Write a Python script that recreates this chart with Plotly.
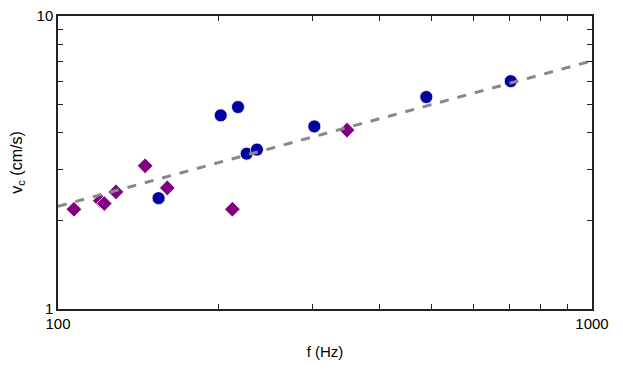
import plotly.graph_objects as go

# purple diamonds
f_diamond = [107.1, 120.0, 122.1, 128.4, 145.6, 160.2, 212.1, 347.7]
v_diamond = [2.19, 2.34, 2.29, 2.51, 3.08, 2.59, 2.19, 4.08]

# blue circles
f_circle = [154.3, 201.7, 217.3, 225.6, 235.8, 302.0, 489.5, 704.4]
v_circle = [2.39, 4.58, 4.89, 3.39, 3.50, 4.20, 5.29, 5.99]

# fitted power-law line
f_fit = [100, 1000]
v_fit = [2.24, 7.03]

minor_x = [200, 300, 400, 500, 600, 700, 800, 900]
minor_y = [2, 3, 4, 5, 6, 7, 8, 9]

fig = go.Figure()
fig.add_trace(go.Scatter(x=f_diamond, y=v_diamond, mode='markers',
                         marker=dict(symbol='diamond', size=12, color='#800080',
                                     line=dict(color='white', width=0.8))))
fig.add_trace(go.Scatter(x=f_circle, y=v_circle, mode='markers',
                         marker=dict(symbol='circle', size=13, color='#0000a0',
                                     line=dict(color='white', width=0.8))))
fig.add_trace(go.Scatter(x=f_fit, y=v_fit, mode='lines',
                         line=dict(color='#888888', width=3, dash='dash')))

axis_style = dict(type='log', showgrid=False, zeroline=False, showline=True,
                  linecolor='#222222', linewidth=1.5, mirror='ticks',
                  ticks='inside', ticklen=0, tickcolor='#222222',
                  tickfont=dict(size=15, color='black'), automargin=False,
                  ticklabeloverflow='allow',
                  minor=dict(ticks='inside', ticklen=5, tickcolor='#222222',
                             showgrid=False))

fig.update_xaxes(**axis_style, range=[2, 3], tickvals=[100, 1000],
                 ticktext=['100', '1000'],
                 title=dict(text='f (Hz)', font=dict(size=15, color='black'), standoff=16))
fig.update_xaxes(minor_tickvals=minor_x)
fig.update_yaxes(**axis_style, range=[0, 1], tickvals=[1, 10],
                 ticktext=['1', '10'],
                 title=dict(text='v<sub>c</sub> (cm/s)', font=dict(size=16, color='black'),
                            standoff=14))
fig.update_yaxes(minor_tickvals=minor_y)

# page body adds an 8px offset, so the figure is 615x366
fig.update_layout(width=615, height=366, showlegend=False,
                  plot_bgcolor='white', paper_bgcolor='white',
                  font=dict(family='Liberation Sans, Arial, sans-serif'),
                  margin=dict(l=50, r=31, t=8, b=65))

fig.write_html('out.html')
